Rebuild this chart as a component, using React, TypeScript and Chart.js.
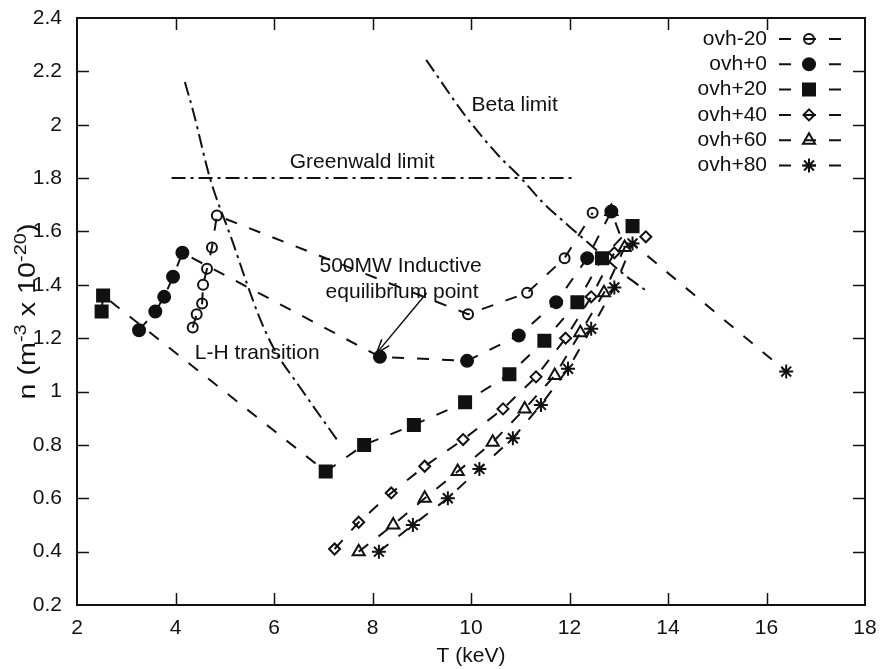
import React, { useEffect, useRef } from 'react';
import { Chart, registerables } from 'chart.js';
import { drawPoint } from 'chart.js/helpers';

Chart.register(...registerables);

const FONT_FAMILY = '"Liberation Sans", Arial, Helvetica, sans-serif';
const INK = '#111111';

// Operating points: temperature T (keV) and density n (10^20 m^-3)
const ovhM20T = [4.35, 4.43, 4.54, 4.56, 4.64, 4.74, 4.84, 9.94, 11.14, 11.9, 12.47];
const ovhM20N = [1.24, 1.29, 1.33, 1.4, 1.46, 1.54, 1.66, 1.29, 1.37, 1.5, 1.67];
const ovh0T = [3.26, 3.59, 3.77, 3.95, 4.14, 8.15, 9.92, 10.97, 11.73, 12.36, 12.85];
const ovh0N = [1.23, 1.3, 1.355, 1.43, 1.52, 1.13, 1.115, 1.21, 1.335, 1.5, 1.675];
const ovh20T = [2.5, 2.53, 7.05, 7.83, 8.84, 9.88, 10.78, 11.49, 12.16, 12.66, 13.28];
const ovh20N = [1.3, 1.36, 0.7, 0.8, 0.875, 0.96, 1.065, 1.19, 1.335, 1.5, 1.62];
const ovh40T = [7.23, 7.72, 8.38, 9.06, 9.84, 10.65, 11.32, 11.92, 12.44, 12.91, 13.55];
const ovh40N = [0.41, 0.51, 0.62, 0.72, 0.82, 0.935, 1.055, 1.2, 1.355, 1.52, 1.58];
const ovh60T = [7.72, 8.42, 9.06, 9.73, 10.44, 11.09, 11.7, 12.22, 12.7, 13.12, 12.85];
const ovh60N = [0.4, 0.5, 0.6, 0.7, 0.81, 0.935, 1.06, 1.22, 1.37, 1.54, 1.675];
const ovh80T = [8.13, 8.82, 9.53, 10.17, 10.85, 11.42, 11.97, 12.44, 12.91, 13.28, 16.4];
const ovh80N = [0.4, 0.5, 0.6, 0.71, 0.825, 0.95, 1.085, 1.235, 1.39, 1.555, 1.075];

// Limit curves
const lhT = [4.19, 4.36, 4.7, 5.17, 5.44, 5.7, 6.0, 6.52, 7.33];
const lhN = [2.16, 2.05, 1.8, 1.556, 1.41, 1.28, 1.16, 1.018, 0.806];
const betaT = [9.09, 9.9, 10.58, 10.99, 11.45, 12.0, 12.47, 13.08, 13.58];
const betaN = [2.243, 2.03, 1.88, 1.805, 1.71, 1.618, 1.543, 1.443, 1.375];
const greenwaldT = [3.92, 12.13];
const greenwaldN = [1.8, 1.8];

// Axis ticks
const xTicks = [2, 4, 6, 8, 10, 12, 14, 16, 18];
const yTicks = [0.2, 0.4, 0.6, 0.8, 1, 1.2, 1.4, 1.6, 1.8, 2, 2.2, 2.4];

const seriesLabels = ['ovh-20', 'ovh+0', 'ovh+20', 'ovh+40', 'ovh+60', 'ovh+80'];
const seriesT = [ovhM20T, ovh0T, ovh20T, ovh40T, ovh60T, ovh80T];
const seriesN = [ovhM20N, ovh0N, ovh20N, ovh40N, ovh60N, ovh80N];

const markers = [
  { pointStyle: 'circle', radius: 5, filled: false },
  { pointStyle: 'circle', radius: 6, filled: true },
  { pointStyle: 'rect', radius: 8.5, filled: true },
  { pointStyle: 'rectRot', radius: 5.5, filled: false },
  { pointStyle: 'triangle', radius: 7, filled: false },
  { pointStyle: 'star', radius: 7, filled: false },
];

const SERIES_DASH = [12, 13];
const LIMIT_DASH = [14, 5, 3, 5];

const toPoints = (xs: number[], ys: number[]) => xs.map((x, i) => ({ x, y: ys[i] }));

const font = (size: number) => `${size}px ${FONT_FAMILY}`;

// Frame with inward ticks on all four sides
const framePlugin = {
  id: 'frame',
  afterDraw(chart: any) {
    const { ctx, chartArea: a, scales } = chart;
    const len = 12;
    ctx.save();
    ctx.strokeStyle = INK;
    ctx.lineWidth = 2;
    ctx.setLineDash([]);
    ctx.strokeRect(a.left, a.top, a.right - a.left, a.bottom - a.top);
    ctx.lineWidth = 1.5;
    ctx.beginPath();
    xTicks.slice(1, -1).forEach((v) => {
      const px = Math.round(scales.x.getPixelForValue(v)) + 0.5;
      ctx.moveTo(px, a.bottom);
      ctx.lineTo(px, a.bottom - len);
      ctx.moveTo(px, a.top);
      ctx.lineTo(px, a.top + len);
    });
    yTicks.slice(1, -1).forEach((v) => {
      const py = Math.round(scales.y.getPixelForValue(v)) + 0.5;
      ctx.moveTo(a.left, py);
      ctx.lineTo(a.left + len, py);
      ctx.moveTo(a.right, py);
      ctx.lineTo(a.right - len, py);
    });
    ctx.stroke();
    ctx.restore();
  },
};

// Key in the upper right: label, dashed sample, marker
const keyPlugin = {
  id: 'key',
  afterDraw(chart: any) {
    const { ctx, chartArea: a } = chart;
    ctx.save();
    ctx.font = font(21);
    ctx.fillStyle = INK;
    ctx.textAlign = 'right';
    ctx.textBaseline = 'middle';
    const textRight = a.right - 98;
    const lineStart = textRight + 12;
    const lineEnd = textRight + 75;
    const markX = textRight + 42;
    seriesLabels.forEach((label, i) => {
      const y = a.top + 21 + i * 25.3;
      ctx.fillStyle = INK;
      ctx.fillText(label, textRight, y);
      ctx.strokeStyle = INK;
      ctx.lineWidth = 2;
      ctx.setLineDash(SERIES_DASH);
      ctx.beginPath();
      ctx.moveTo(lineStart, y);
      ctx.lineTo(lineEnd, y);
      ctx.stroke();
      ctx.setLineDash([]);
      const m = markers[i];
      ctx.fillStyle = m.filled ? INK : 'rgba(0,0,0,0)';
      drawPoint(ctx, { pointStyle: m.pointStyle, radius: m.radius, rotation: 0, borderWidth: 2 } as any, markX, y);
    });
    ctx.restore();
  },
};

// Curve labels, the arrow to the inductive point and the y-axis title
const notesPlugin = {
  id: 'notes',
  afterDraw(chart: any) {
    const { ctx, scales, chartArea: a } = chart;
    const X = (v: number) => scales.x.getPixelForValue(v);
    const Y = (v: number) => scales.y.getPixelForValue(v);
    ctx.save();
    ctx.fillStyle = INK;
    ctx.font = font(21);
    ctx.textBaseline = 'middle';
    ctx.textAlign = 'left';
    ctx.fillText('Greenwald limit', X(6.32), Y(1.86));
    ctx.fillText('Beta limit', X(10.01), Y(2.074));
    ctx.fillText('L-H transition', X(4.39), Y(1.145));
    ctx.textAlign = 'center';
    ctx.fillText('500MW Inductive', X(8.57), Y(1.471));
    ctx.fillText('equilibrium point', X(8.6), Y(1.373));

    // arrow
    const x0 = X(9.1), y0 = Y(1.369);
    const x1 = X(8.08), y1 = Y(1.143);
    ctx.strokeStyle = INK;
    ctx.lineWidth = 1.5;
    ctx.setLineDash([]);
    ctx.beginPath();
    ctx.moveTo(x0, y0);
    ctx.lineTo(x1, y1);
    const ang = Math.atan2(y1 - y0, x1 - x0);
    const head = 15;
    const spread = 0.33;
    ctx.moveTo(x1, y1);
    ctx.lineTo(x1 - head * Math.cos(ang - spread), y1 - head * Math.sin(ang - spread));
    ctx.moveTo(x1, y1);
    ctx.lineTo(x1 - head * Math.cos(ang + spread), y1 - head * Math.sin(ang + spread));
    ctx.stroke();

    // y-axis title with superscripts, slightly stretched along its length
    const parts: [string, boolean][] = [
      ['n (m', false],
      ['-3', true],
      [' x 10', false],
      ['-20', true],
      [')', false],
    ];
    const big = font(23);
    const small = font(16);
    let total = 0;
    parts.forEach(([t, sup]) => {
      ctx.font = sup ? small : big;
      total += ctx.measureText(t).width;
    });
    const stretch = 1.25;
    ctx.translate(28, (a.top + a.bottom) / 2);
    ctx.rotate(-Math.PI / 2);
    ctx.scale(stretch, 1);
    ctx.textAlign = 'left';
    ctx.textBaseline = 'alphabetic';
    let cx = -total / 2;
    parts.forEach(([t, sup]) => {
      ctx.font = sup ? small : big;
      ctx.fillText(t, cx, sup ? -2 : 7);
      cx += ctx.measureText(t).width;
    });
    ctx.restore();
  },
};

export default function App() {
  const canvasRef = useRef<HTMLCanvasElement | null>(null);

  useEffect(() => {
    const canvas = canvasRef.current;
    if (!canvas) return;

    const limitSet = (xs: number[], ys: number[]) => ({
      data: toPoints(xs, ys),
      showLine: true,
      borderColor: INK,
      borderWidth: 2,
      borderDash: LIMIT_DASH,
      pointRadius: 0,
      cubicInterpolationMode: 'monotone',
      fill: false,
    });

    const seriesSets = seriesLabels.map((label, i) => {
      const m = markers[i];
      return {
        label,
        data: toPoints(seriesT[i], seriesN[i]),
        showLine: true,
        borderColor: INK,
        borderWidth: 2,
        borderDash: SERIES_DASH,
        tension: 0,
        fill: false,
        pointStyle: m.pointStyle,
        pointRadius: m.radius,
        pointBorderWidth: 2,
        pointBorderColor: INK,
        pointBackgroundColor: m.filled ? INK : 'rgba(0,0,0,0)',
      };
    });

    const tickFont = { family: FONT_FAMILY, size: 21 };

    const chart = new Chart(canvas, {
      type: 'scatter',
      data: {
        datasets: [
          ...seriesSets,
          limitSet(lhT, lhN),
          limitSet(betaT, betaN),
          { ...limitSet(greenwaldT, greenwaldN), cubicInterpolationMode: 'default' },
        ] as any,
      },
      options: {
        responsive: false,
        animation: false,
        devicePixelRatio: 1,
        layout: { padding: { top: 18, right: 18, left: 0, bottom: 0 } },
        plugins: { legend: { display: false }, tooltip: { enabled: false } },
        scales: {
          x: {
            type: 'linear',
            min: 2,
            max: 18,
            afterBuildTicks: (s: any) => {
              s.ticks = xTicks.map((value) => ({ value }));
            },
            afterFit: (s: any) => {
              s.height = 64;
              s.paddingLeft = 0;
              s.paddingRight = 0;
            },
            grid: { display: false, drawTicks: false },
            border: { display: false },
            title: { display: true, text: 'T (keV)', color: INK, font: tickFont, padding: { top: 0, bottom: 0 } },
            ticks: {
              padding: 11,
              color: INK,
              font: tickFont,
              maxRotation: 0,
              autoSkip: false,
              callback: (v: any) => String(v),
            },
          },
          y: {
            type: 'linear',
            min: 0.2,
            max: 2.4,
            afterBuildTicks: (s: any) => {
              s.ticks = yTicks.map((value) => ({ value }));
            },
            afterFit: (s: any) => {
              s.width = 77;
              s.paddingTop = 0;
              s.paddingBottom = 0;
            },
            grid: { display: false, drawTicks: false },
            border: { display: false },
            ticks: {
              padding: 15,
              color: INK,
              font: tickFont,
              autoSkip: false,
              callback: (v: any) => String(Math.round(Number(v) * 10) / 10),
            },
          },
        },
      } as any,
      plugins: [framePlugin, keyPlugin, notesPlugin],
    });

    return () => chart.destroy();
  }, []);

  return (
    <div style={{ position: 'absolute', left: 0, top: 0, width: 883, height: 669, background: '#fff' }}>
      <canvas ref={canvasRef} width={883} height={669} style={{ display: 'block' }} />
    </div>
  );
}
